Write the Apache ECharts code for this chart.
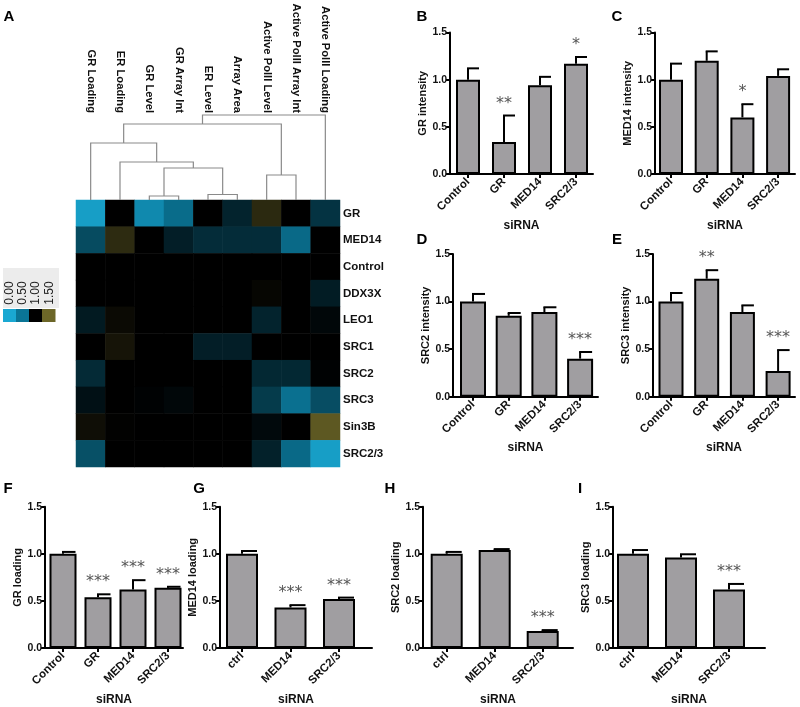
<!DOCTYPE html>
<html><head><meta charset="utf-8">
<script src="https://cdn.jsdelivr.net/npm/echarts@6/dist/echarts.min.js"></script>
<style>html,body{margin:0;padding:0;background:#fff}#c{width:800px;height:707px}</style>
</head><body><div id="c"></div>
<script>
// ---------- DATA ----------
const heatCols = ['GR Loading','ER Loading','GR Level','GR Array Int','ER Level','Array Area','Active PolII Level','Active PolII Array Int','Active PolII Loading'];
const heatRows = ['GR','MED14','Control','DDX3X','LEO1','SRC1','SRC2','SRC3','Sin3B','SRC2/3'];
const hmGR      = [0.10, 1.00, 0.30, 0.54, 1.00, 0.85, 1.20, 1.00, 0.78];
const hmMED14   = [0.68, 1.21, 1.00, 0.87, 0.81, 0.81, 0.81, 0.55, 1.00];
const hmControl = [1.00, 1.00, 1.00, 1.00, 1.00, 1.00, 1.00, 1.00, 1.00];
const hmDDX3X   = [1.00, 1.00, 1.00, 1.00, 1.00, 1.00, 1.03, 1.00, 0.88];
const hmLEO1    = [0.89, 1.05, 1.00, 1.00, 1.00, 1.00, 0.85, 1.00, 0.97];
const hmSRC1    = [1.00, 1.10, 1.00, 1.00, 0.87, 0.87, 1.00, 1.00, 1.00];
const hmSRC2    = [0.82, 1.00, 1.00, 1.00, 1.00, 1.00, 0.83, 0.83, 0.99];
const hmSRC3    = [0.93, 1.00, 0.99, 0.97, 1.00, 1.00, 0.75, 0.52, 0.67];
const hmSin3B   = [1.07, 1.01, 1.00, 1.00, 1.00, 1.00, 0.96, 1.00, 1.43];
const hmSRC23   = [0.66, 1.00, 1.00, 1.00, 1.00, 1.00, 0.86, 0.55, 0.10];
const heatValues = [hmGR, hmMED14, hmControl, hmDDX3X, hmLEO1, hmSRC1, hmSRC2, hmSRC3, hmSin3B, hmSRC23];

// dendrogram merges: [leftPos, leftBottomHeight, rightPos, rightBottomHeight, mergeHeight]
const dendroMerges = [
  [2, 0, 3, 0, 4],
  [4, 0, 5, 0, 5.5],
  [2.5, 4, 4.5, 5.5, 32],
  [1, 0, 3.5, 32, 38],
  [0, 0, 2.25, 38, 57],
  [6, 0, 7, 0, 25],
  [1.125, 57, 6.5, 25, 76],
  [3.8125, 76, 8, 0, 85]
];

const legendTicks = ['0.00', '0.50', '1.00', '1.50'];
const legendStops = [0, 0.5, 1.0, 1.5];

const catsB = ['Control','GR','MED14','SRC2/3'];
const valB = [1.00, 0.34, 0.94, 1.17];
const errB = [1.12, 0.62, 1.03, 1.24];
const sigB = ['', '**', '', '*'];

const catsC = ['Control','GR','MED14','SRC2/3'];
const valC = [1.00, 1.20, 0.60, 1.04];
const errC = [1.17, 1.30, 0.74, 1.11];
const sigC = ['', '', '*', ''];

const catsD = ['Control','GR','MED14','SRC2/3'];
const valD = [1.00, 0.85, 0.89, 0.40];
const errD = [1.08, 0.88, 0.94, 0.47];
const sigD = ['', '', '', '***'];

const catsE = ['Control','GR','MED14','SRC2/3'];
const valE = [1.00, 1.24, 0.89, 0.27];
const errE = [1.09, 1.33, 0.96, 0.49];
const sigE = ['', '**', '', '***'];

const catsF = ['Control','GR','MED14','SRC2/3'];
const valF = [1.00, 0.54, 0.62, 0.64];
const errF = [1.02, 0.57, 0.72, 0.65];
const sigF = ['', '***', '***', '***'];

const catsG = ['ctrl','MED14','SRC2/3'];
const valG = [1.00, 0.43, 0.52];
const errG = [1.03, 0.455, 0.535];
const sigG = ['', '***', '***'];

const catsH = ['ctrl','MED14','SRC2/3'];
const valH = [1.00, 1.04, 0.18];
const errH = [1.02, 1.05, 0.19];
const sigH = ['', '', '***'];

const catsI = ['ctrl','MED14','SRC2/3'];
const valI = [1.00, 0.96, 0.62];
const errI = [1.04, 0.995, 0.68];
const sigI = ['', '', '***'];

// ---------- STYLE / LAYOUT ----------
const FF = "'Liberation Sans', Arial, sans-serif";
const HM = { left: 76, top: 200, width: 264, height: 267 };
const colorsScale = ['#1aa8d2', '#0a7596', '#000000', '#6c6628'];

const panelDefs = [
  { cats: catsB, val: valB, err: errB, sig: sigB, yname: 'GR intensity',   L: { ax: 450, xe: 593, top: 32.5, y0: 174, c0: 468, sp: 36, bw: 24, ng: 20, sg: 46 } },
  { cats: catsC, val: valC, err: errC, sig: sigC, yname: 'MED14 intensity',L: { ax: 655, xe: 795, top: 32.5, y0: 174, c0: 671, sp: 35.7, bw: 24, ng: 22, sg: 46 } },
  { cats: catsD, val: valD, err: errD, sig: sigD, yname: 'SRC2 intensity', L: { ax: 453, xe: 598, top: 254, y0: 396.7, c0: 473, sp: 35.7, bw: 26, ng: 19, sg: 45 } },
  { cats: catsE, val: valE, err: errE, sig: sigE, yname: 'SRC3 intensity', L: { ax: 653, xe: 795, top: 254, y0: 396.7, c0: 671, sp: 35.7, bw: 25, ng: 21, sg: 45 } },
  { cats: catsF, val: valF, err: errF, sig: sigF, yname: 'GR loading',     L: { ax: 45, xe: 183, top: 506.7, y0: 648.3, c0: 63, sp: 35, bw: 27, ng: 21, sg: 46 } },
  { cats: catsG, val: valG, err: errG, sig: sigG, yname: 'MED14 loading',  L: { ax: 220, xe: 372, top: 506.7, y0: 648.3, c0: 242, sp: 48.5, bw: 32, ng: 18, sg: 46 } },
  { cats: catsH, val: valH, err: errH, sig: sigH, yname: 'SRC2 loading',   L: { ax: 423, xe: 573, top: 506.7, y0: 648.3, c0: 446.7, sp: 48, bw: 32, ng: 22, sg: 46 } },
  { cats: catsI, val: valI, err: errI, sig: sigI, yname: 'SRC3 loading',   L: { ax: 613, xe: 765, top: 506.7, y0: 648.3, c0: 633, sp: 48, bw: 32, ng: 16, sg: 46 } }
];

const grids = [], xAxes = [], yAxes = [], series = [];

// heatmap grid 0
grids.push({ left: HM.left, top: HM.top, width: HM.width, height: HM.height });
xAxes.push({
  type: 'category', gridIndex: 0, data: heatCols, position: 'top',
  axisLine: { show: false }, axisTick: { show: false }, splitLine: { show: false },
  axisLabel: { rotate: 90, margin: 87, interval: 0, fontFamily: FF, fontWeight: 'bold', fontSize: 11.2, color: '#111' }
});
yAxes.push({
  type: 'category', gridIndex: 0, data: heatRows, inverse: true, position: 'right',
  axisLine: { show: false }, axisTick: { show: false }, splitLine: { show: false },
  axisLabel: { margin: 3, fontFamily: FF, fontWeight: 'bold', fontSize: 11.5, color: '#111' }
});
const heatData = [];
heatValues.forEach((row, r) => row.forEach((v, c) => heatData.push([c, r, v])));
series.push({
  type: 'heatmap', xAxisIndex: 0, yAxisIndex: 0, data: heatData, silent: true,
  itemStyle: { borderWidth: 0 }, emphasis: { disabled: true }, progressive: 0
});

// dendrogram grid 1
grids.push({ left: HM.left, top: 110, width: HM.width, height: 90 });
xAxes.push({ type: 'value', gridIndex: 1, min: -0.5, max: 8.5, show: false });
yAxes.push({ type: 'value', gridIndex: 1, min: 0, max: 90, show: false });
series.push({
  type: 'custom', xAxisIndex: 1, yAxisIndex: 1, silent: true, data: dendroMerges,
  renderItem: function (params, api) {
    const a = api.coord([api.value(0), api.value(1)]);
    const b = api.coord([api.value(0), api.value(4)]);
    const c = api.coord([api.value(2), api.value(4)]);
    const d = api.coord([api.value(2), api.value(3)]);
    return { type: 'polyline', shape: { points: [a, b, c, d] }, style: { stroke: '#8a8a8a', lineWidth: 1.2, fill: null } };
  }
});

// bar panels
panelDefs.forEach((p, idx) => {
  const g = idx + 2;
  const L = p.L;
  const ticks = p.cats.map((_, i) => i);
  grids.push({ left: L.ax, top: L.top, width: L.xe - L.ax, height: L.y0 - L.top });
  xAxes.push({
    type: 'value', gridIndex: g, min: -(L.c0 - L.ax) / L.sp, max: (L.xe - L.c0) / L.sp,
    splitLine: { show: false },
    axisLine: { show: true, onZero: false, lineStyle: { color: '#000', width: 2 } },
    axisTick: { show: true, customValues: ticks, length: 4, lineStyle: { color: '#000', width: 2 } },
    axisLabel: { customValues: ticks, formatter: (v) => p.cats[Math.round(v)], rotate: 45, margin: 6,
      fontFamily: FF, fontWeight: 'bold', fontSize: 11.5, color: '#111' },
    name: 'siRNA', nameLocation: 'middle', nameGap: L.sg,
    nameTextStyle: { fontFamily: FF, fontWeight: 'bold', fontSize: 12, color: '#111' }
  });
  yAxes.push({
    type: 'value', gridIndex: g, min: 0, max: 1.5, interval: 0.5,
    splitLine: { show: false },
    axisLine: { show: true, onZero: false, lineStyle: { color: '#000', width: 2 } },
    axisTick: { show: true, length: 4, lineStyle: { color: '#000', width: 2 } },
    axisLabel: { formatter: (v) => v.toFixed(1), margin: 3, fontFamily: FF, fontWeight: 'bold', fontSize: 10.5, color: '#111' },
    name: p.yname, nameLocation: 'middle', nameGap: L.ng,
    nameTextStyle: { fontFamily: FF, fontWeight: 'bold', fontSize: 11, color: '#111' }
  });
  series.push({
    type: 'bar', xAxisIndex: g, yAxisIndex: g, silent: true, barWidth: L.bw,
    data: p.val.map((v, i) => [i, v]),
    itemStyle: { color: '#a09ea1', borderColor: '#000', borderWidth: 2 }, z: 2
  });
  series.push({
    type: 'custom', xAxisIndex: g, yAxisIndex: g, silent: true, z: 3,
    data: p.val.map((v, i) => [i, v, p.err[i]]),
    renderItem: function (params, api) {
      const top = api.coord([api.value(0), api.value(1)]);
      const e = api.coord([api.value(0), api.value(2)]);
      const half = L.bw / 2;
      const ch = [
        { type: 'line', shape: { x1: top[0], y1: top[1], x2: e[0], y2: e[1] }, style: { stroke: '#000', lineWidth: 2 } },
        { type: 'line', shape: { x1: e[0] - 1, y1: e[1], x2: e[0] + half - 1, y2: e[1] }, style: { stroke: '#000', lineWidth: 2 } }
      ];
      const s = p.sig[params.dataIndex];
      if (s) {
        ch.push({ type: 'text', style: { text: s, x: e[0], y: e[1] - 12, align: 'center', verticalAlign: 'middle',
          fontFamily: "'DejaVu Sans', sans-serif", fontSize: 16, fill: '#555' } });
      }
      return { type: 'group', children: ch };
    }
  });
});

// ---------- GRAPHIC (panel letters, colour key) ----------
const letters = [['A', 9, 17], ['B', 422, 17], ['C', 617, 17], ['D', 422, 240], ['E', 617, 240],
                 ['F', 8, 489], ['G', 199, 489], ['H', 390, 489], ['I', 580, 489]];
const graphic = [];
letters.forEach(([t, x, y]) => graphic.push({
  type: 'text', x: x, y: y,
  style: { text: t, font: "bold 15px 'Liberation Sans', Arial, sans-serif", fill: '#000', align: 'center', verticalAlign: 'middle', textAlign: 'center', textVerticalAlign: 'middle' }
}));
graphic.push({ type: 'rect', shape: { x: 3, y: 268, width: 56, height: 40 }, style: { fill: '#ececec' } });
legendStops.forEach((v, i) => {
  graphic.push({ type: 'rect', shape: { x: 3 + i * 13, y: 309, width: 13.5, height: 13 }, style: { fill: colorsScale[i] } });
  graphic.push({
    type: 'text', x: 9.5 + i * 13.3, y: 293, rotation: Math.PI / 2,
    style: { text: legendTicks[i], font: "12px 'Liberation Sans', Arial, sans-serif", fill: '#222', align: 'center', verticalAlign: 'middle', textAlign: 'center', textVerticalAlign: 'middle' }
  });
});

const chart = echarts.init(document.getElementById('c'), null, { renderer: 'canvas' });
chart.setOption({
  animation: false,
  backgroundColor: '#fff',
  grid: grids, xAxis: xAxes, yAxis: yAxes, series: series,
  visualMap: { type: 'continuous', show: false, min: 0, max: 1.5, seriesIndex: 0, dimension: 2, inRange: { color: colorsScale } },
  graphic: graphic
});
</script>
</body></html>
